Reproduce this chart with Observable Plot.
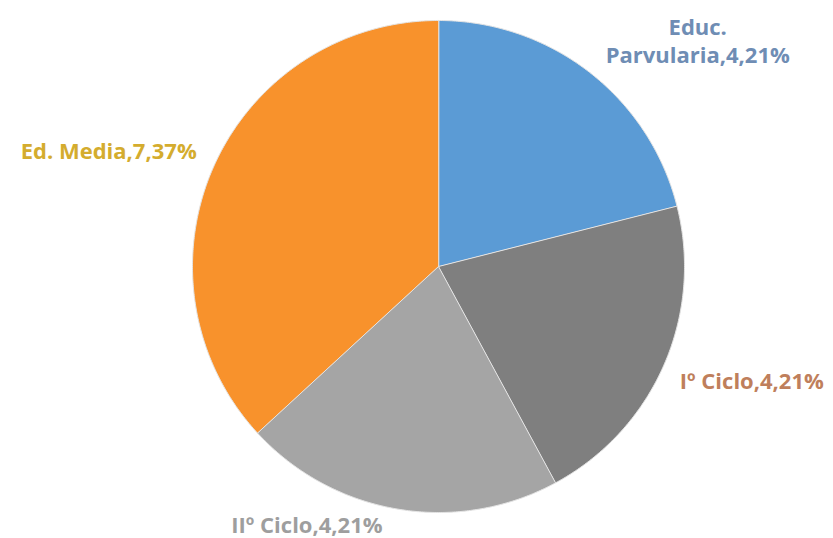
<!DOCTYPE html>
<html>
<head>
<meta charset="utf-8">
<script src="https://cdn.jsdelivr.net/npm/d3@7"></script>
<script src="https://cdn.jsdelivr.net/npm/@observablehq/plot@0.6"></script>
<style>
  html, body { margin: 0; padding: 0; background: #fff; }
</style>
</head>
<body>
<div id="chart"></div>
<script>
// Data
const categories = ["Educ. Parvularia", "Iº Ciclo", "IIº Ciclo", "Ed. Media"];
const values = [4, 4, 4, 7];
const percents = ["21%", "21%", "21%", "37%"];
const sliceColors = ["#5b9bd5", "#7f7f7f", "#a5a5a5", "#f8922c"];
const labelColors = ["#6f8db4", "#bf7f5c", "#9e9e9e", "#d4ac2e"];

const W = 833, H = 538;
const cx = 438, cy = 266, R = 246;

const rows = categories.map((c, i) => ({name: c, value: values[i], pct: percents[i], i}));
const arcs = d3.pie().sort(null).value(d => d.value)(rows);

// Slice outlines in unit-radius data space
const slicePts = [];
for (const a of arcs) {
  slicePts.push({name: a.data.name, X: 0, Y: 0});
  const n = Math.max(2, Math.ceil((a.endAngle - a.startAngle) / (Math.PI / 360)));
  for (let k = 0; k <= n; k++) {
    const t = a.startAngle + (a.endAngle - a.startAngle) * k / n;
    slicePts.push({name: a.data.name, X: Math.sin(t), Y: Math.cos(t)});
  }
}

// Label anchors: along mid-angle
const labelR = [1.12, 1.08, 1.06, 1.06];
const labelAnchor = ["middle", "start", "end", "end"];
const labelOffset = [[90, -9], [-2, 7], [-13, 0], [-3, -12]];
const labels = arcs.map((a, i) => {
  const m = (a.startAngle + a.endAngle) / 2;
  const name = a.data.name;
  const text = (i === 0 ? "Educ.\nParvularia" : name) + "," + a.data.value + "," + a.data.pct;
  return {i, text, X: labelR[i] * Math.sin(m), Y: labelR[i] * Math.cos(m)};
});

const labelMarks = labels.map(l => Plot.text([l], {
  x: "X", y: "Y", text: "text",
  textAnchor: labelAnchor[l.i],
  dx: labelOffset[l.i][0], dy: labelOffset[l.i][1],
  fill: labelColors[l.i],
  fontSize: 22, fontWeight: "bold", fontFamily: "Open Sans",
  lineHeight: 1.25
}));

const chart = Plot.plot({
  width: W, height: H,
  margin: 0,
  style: {background: "#fff"},
  x: {domain: [-cx / R, (W - cx) / R], axis: null},
  y: {domain: [-(H - cy) / R, cy / R], axis: null},
  color: {domain: categories, range: sliceColors},
  marks: [
    Plot.line(slicePts, {
      x: "X", y: "Y", z: "name", fill: "name",
      stroke: "#e4e4e4", strokeWidth: 1, curve: "linear-closed"
    }),
    ...labelMarks
  ]
});
document.getElementById("chart").appendChild(chart);
</script>
</body>
</html>
